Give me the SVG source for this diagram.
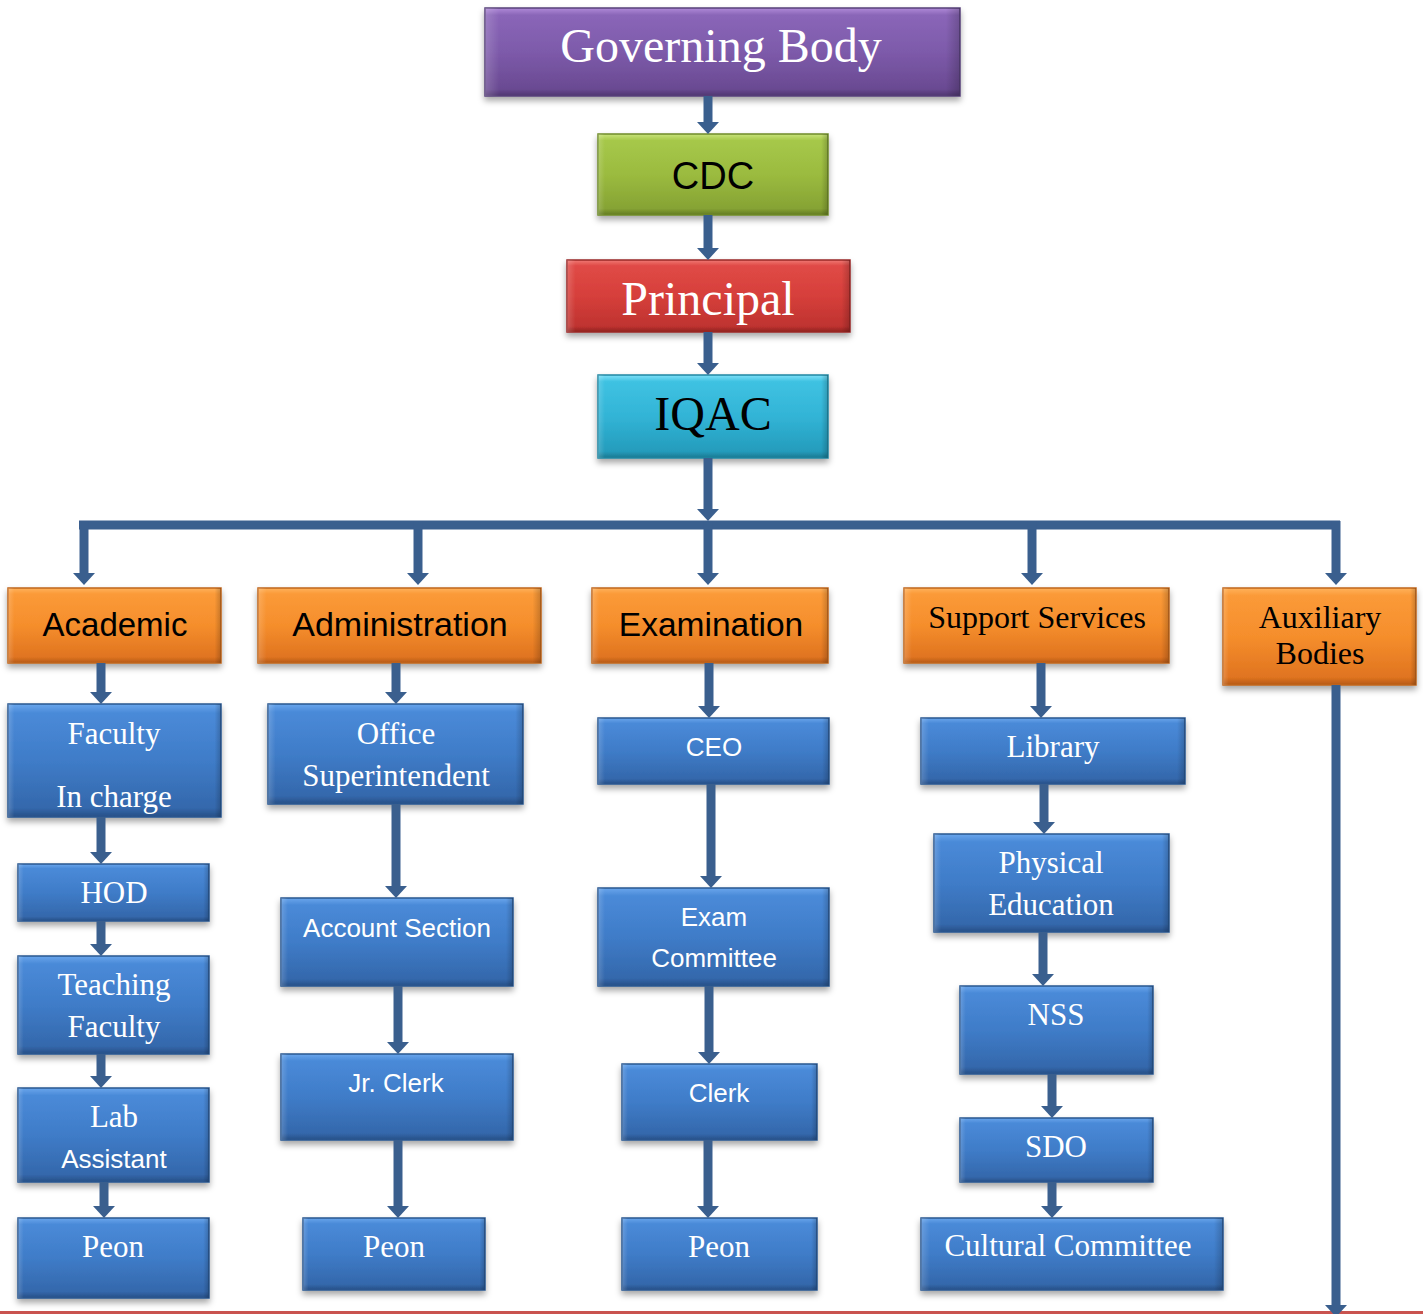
<svg xmlns="http://www.w3.org/2000/svg" width="1423" height="1314" viewBox="0 0 1423 1314">
<defs>
<style>
.serif{font-family:"Liberation Serif","Times New Roman",serif;text-anchor:middle}
.sans{font-family:"Liberation Sans",Arial,sans-serif;text-anchor:middle}
.w{fill:#ffffff}
.k{fill:#000000}
.box{filter:url(#sh)}
.blue{fill:url(#gBlue);stroke:#2a5790;stroke-width:1.5}
.orange{fill:url(#gOrange);stroke:#c0661c;stroke-width:1.5}
.purple{fill:url(#gPurple);stroke:#57407a;stroke-width:1.5}
.green{fill:url(#gGreen);stroke:#6f8a2a;stroke-width:1.5}
.red{fill:url(#gRed);stroke:#992826;stroke-width:1.5}
.cyan{fill:url(#gCyan);stroke:#1f86a2;stroke-width:1.5}
.ov{fill:url(#gSide);stroke:none}
.con{stroke:#3a5f8e;stroke-width:9;fill:none}
.arr{marker-end:url(#ah)}
</style>
<filter id="sh" x="-10%" y="-10%" width="120%" height="140%">
<feDropShadow dx="0" dy="4" stdDeviation="3" flood-color="#000" flood-opacity="0.35"/>
</filter>
<linearGradient id="gBlue" x1="0" y1="0" x2="0" y2="1">
<stop offset="0" stop-color="#6aa6ec"/><stop offset="0.08" stop-color="#4a8ad8"/><stop offset="0.5" stop-color="#3f7cc8"/><stop offset="0.92" stop-color="#3468ac"/><stop offset="1" stop-color="#274f86"/>
</linearGradient>
<linearGradient id="gOrange" x1="0" y1="0" x2="0" y2="1">
<stop offset="0" stop-color="#ffb25c"/><stop offset="0.08" stop-color="#fb9a38"/><stop offset="0.5" stop-color="#f58e2c"/><stop offset="0.92" stop-color="#e07420"/><stop offset="1" stop-color="#b55a17"/>
</linearGradient>
<linearGradient id="gPurple" x1="0" y1="0" x2="0" y2="1">
<stop offset="0" stop-color="#b08ad8"/><stop offset="0.08" stop-color="#8a66b8"/><stop offset="0.5" stop-color="#7d5aaa"/><stop offset="0.92" stop-color="#6a4a92"/><stop offset="1" stop-color="#4f3670"/>
</linearGradient>
<linearGradient id="gGreen" x1="0" y1="0" x2="0" y2="1">
<stop offset="0" stop-color="#c8e37a"/><stop offset="0.08" stop-color="#a6c84a"/><stop offset="0.5" stop-color="#9bbb3f"/><stop offset="0.92" stop-color="#86a334"/><stop offset="1" stop-color="#637a24"/>
</linearGradient>
<linearGradient id="gRed" x1="0" y1="0" x2="0" y2="1">
<stop offset="0" stop-color="#f07a76"/><stop offset="0.08" stop-color="#e04a46"/><stop offset="0.5" stop-color="#d63f3b"/><stop offset="0.92" stop-color="#bf3330"/><stop offset="1" stop-color="#8f2220"/>
</linearGradient>
<linearGradient id="gCyan" x1="0" y1="0" x2="0" y2="1">
<stop offset="0" stop-color="#7fe0f8"/><stop offset="0.08" stop-color="#3fc2e2"/><stop offset="0.5" stop-color="#32b4d6"/><stop offset="0.92" stop-color="#249cbc"/><stop offset="1" stop-color="#1a7890"/>
</linearGradient>
<linearGradient id="gSide" x1="0" y1="0" x2="1" y2="0">
<stop offset="0" stop-color="#fff" stop-opacity="0.18"/><stop offset="0.03" stop-color="#fff" stop-opacity="0"/><stop offset="0.97" stop-color="#000" stop-opacity="0"/><stop offset="1" stop-color="#000" stop-opacity="0.2"/>
</linearGradient>
<marker id="ah" viewBox="0 0 12 22" refX="1" refY="11" markerWidth="12" markerHeight="22" markerUnits="userSpaceOnUse" orient="auto">
<path d="M0,0 L12,11 L0,22 z" fill="#3a5f8e"/>
</marker>
</defs>
<rect x="0" y="0" width="1423" height="1314" fill="#ffffff"/>
<rect x="0" y="1311" width="1423" height="3" fill="#c9534f"/>

<g id="governing-body"><rect class="box purple" x="485" y="8" width="475" height="88"/><rect class="ov" x="485" y="8" width="475" height="88"/><text class="serif w" x="721" y="62" font-size="48">Governing Body</text></g>
<g id="cdc"><rect class="box green" x="598" y="134" width="230" height="81"/><rect class="ov" x="598" y="134" width="230" height="81"/><text class="sans k" x="713" y="189" font-size="38">CDC</text></g>
<g id="principal"><rect class="box red" x="567" y="260" width="283" height="72"/><rect class="ov" x="567" y="260" width="283" height="72"/><text class="serif w" x="708" y="315" font-size="48">Principal</text></g>
<g id="iqac"><rect class="box cyan" x="598" y="375" width="230" height="83"/><rect class="ov" x="598" y="375" width="230" height="83"/><text class="serif k" x="713" y="430" font-size="48">IQAC</text></g>

<g id="academic"><rect class="box orange" x="8" y="588" width="213" height="75"/><rect class="ov" x="8" y="588" width="213" height="75"/><text class="sans k" x="115" y="636" font-size="33">Academic</text></g>
<g id="administration"><rect class="box orange" x="258" y="588" width="283" height="75"/><rect class="ov" x="258" y="588" width="283" height="75"/><text class="sans k" x="400" y="636" font-size="34">Administration</text></g>
<g id="examination"><rect class="box orange" x="592" y="588" width="236" height="75"/><rect class="ov" x="592" y="588" width="236" height="75"/><text class="sans k" x="711" y="636" font-size="33.5">Examination</text></g>
<g id="support-services"><rect class="box orange" x="904" y="588" width="265" height="75"/><rect class="ov" x="904" y="588" width="265" height="75"/><text class="serif k" x="1037" y="628" font-size="32">Support Services</text></g>
<g id="auxiliary-bodies"><rect class="box orange" x="1223" y="588" width="193" height="97"/><rect class="ov" x="1223" y="588" width="193" height="97"/><text class="serif k" x="1320" y="628" font-size="32">Auxiliary</text><text class="serif k" x="1320" y="664" font-size="32">Bodies</text></g>

<g id="faculty-in-charge"><rect class="box blue" x="8" y="704" width="213" height="113"/><rect class="ov" x="8" y="704" width="213" height="113"/><text class="serif w" x="114" y="744" font-size="31">Faculty</text><text class="serif w" x="114" y="807" font-size="31">In charge</text></g>
<g id="hod"><rect class="box blue" x="18" y="864" width="191" height="57"/><rect class="ov" x="18" y="864" width="191" height="57"/><text class="serif w" x="114" y="903" font-size="31">HOD</text></g>
<g id="teaching-faculty"><rect class="box blue" x="18" y="956" width="191" height="98"/><rect class="ov" x="18" y="956" width="191" height="98"/><text class="serif w" x="114" y="995" font-size="31">Teaching</text><text class="serif w" x="114" y="1037" font-size="31">Faculty</text></g>
<g id="lab-assistant"><rect class="box blue" x="18" y="1088" width="191" height="94"/><rect class="ov" x="18" y="1088" width="191" height="94"/><text class="serif w" x="114" y="1127" font-size="31">Lab</text><text class="sans w" x="114" y="1168" font-size="26">Assistant</text></g>
<g id="peon-academic"><rect class="box blue" x="18" y="1218" width="191" height="80"/><rect class="ov" x="18" y="1218" width="191" height="80"/><text class="serif w" x="113" y="1257" font-size="31">Peon</text></g>

<g id="office-superintendent"><rect class="box blue" x="268" y="704" width="255" height="100"/><rect class="ov" x="268" y="704" width="255" height="100"/><text class="serif w" x="396" y="744" font-size="31">Office</text><text class="serif w" x="396" y="786" font-size="31">Superintendent</text></g>
<g id="account-section"><rect class="box blue" x="281" y="898" width="232" height="88"/><rect class="ov" x="281" y="898" width="232" height="88"/><text class="sans w" x="397" y="937" font-size="26">Account Section</text></g>
<g id="jr-clerk"><rect class="box blue" x="281" y="1054" width="232" height="86"/><rect class="ov" x="281" y="1054" width="232" height="86"/><text class="sans w" x="396" y="1092" font-size="26">Jr. Clerk</text></g>
<g id="peon-administration"><rect class="box blue" x="303" y="1218" width="182" height="72"/><rect class="ov" x="303" y="1218" width="182" height="72"/><text class="serif w" x="394" y="1257" font-size="31">Peon</text></g>

<g id="ceo"><rect class="box blue" x="598" y="718" width="231" height="66"/><rect class="ov" x="598" y="718" width="231" height="66"/><text class="sans w" x="714" y="756" font-size="26">CEO</text></g>
<g id="exam-committee"><rect class="box blue" x="598" y="888" width="231" height="98"/><rect class="ov" x="598" y="888" width="231" height="98"/><text class="sans w" x="714" y="926" font-size="26">Exam</text><text class="sans w" x="714" y="967" font-size="26">Committee</text></g>
<g id="clerk"><rect class="box blue" x="622" y="1064" width="195" height="76"/><rect class="ov" x="622" y="1064" width="195" height="76"/><text class="sans w" x="719" y="1102" font-size="26">Clerk</text></g>
<g id="peon-examination"><rect class="box blue" x="622" y="1218" width="195" height="72"/><rect class="ov" x="622" y="1218" width="195" height="72"/><text class="serif w" x="719" y="1257" font-size="31">Peon</text></g>

<g id="library"><rect class="box blue" x="921" y="718" width="264" height="66"/><rect class="ov" x="921" y="718" width="264" height="66"/><text class="serif w" x="1053" y="757" font-size="31">Library</text></g>
<g id="physical-education"><rect class="box blue" x="934" y="834" width="235" height="98"/><rect class="ov" x="934" y="834" width="235" height="98"/><text class="serif w" x="1051" y="873" font-size="31">Physical</text><text class="serif w" x="1051" y="915" font-size="31">Education</text></g>
<g id="nss"><rect class="box blue" x="960" y="986" width="193" height="88"/><rect class="ov" x="960" y="986" width="193" height="88"/><text class="serif w" x="1056" y="1025" font-size="31">NSS</text></g>
<g id="sdo"><rect class="box blue" x="960" y="1118" width="193" height="64"/><rect class="ov" x="960" y="1118" width="193" height="64"/><text class="serif w" x="1056" y="1157" font-size="31">SDO</text></g>
<g id="cultural-committee"><rect class="box blue" x="921" y="1218" width="302" height="72"/><rect class="ov" x="921" y="1218" width="302" height="72"/><text class="serif w" x="1068" y="1256" font-size="31">Cultural Committee</text></g>

<g id="connectors">
<line class="con arr" x1="708" y1="96" x2="708" y2="123"/>
<line class="con arr" x1="708" y1="215" x2="708" y2="249"/>
<line class="con arr" x1="708" y1="332" x2="708" y2="364"/>
<line class="con arr" x1="708" y1="458" x2="708" y2="510"/>
<line class="con" x1="79" y1="525" x2="1340" y2="525"/>
<line class="con arr" x1="84" y1="521" x2="84" y2="574"/>
<line class="con arr" x1="418" y1="521" x2="418" y2="574"/>
<line class="con arr" x1="708" y1="521" x2="708" y2="574"/>
<line class="con arr" x1="1032" y1="521" x2="1032" y2="574"/>
<line class="con arr" x1="1336" y1="521" x2="1336" y2="574"/>
<line class="con arr" x1="101" y1="663" x2="101" y2="693"/>
<line class="con arr" x1="101" y1="817" x2="101" y2="853"/>
<line class="con arr" x1="101" y1="921" x2="101" y2="945"/>
<line class="con arr" x1="101" y1="1054" x2="101" y2="1077"/>
<line class="con arr" x1="104" y1="1182" x2="104" y2="1207"/>
<line class="con arr" x1="396" y1="663" x2="396" y2="693"/>
<line class="con arr" x1="396" y1="804" x2="396" y2="887"/>
<line class="con arr" x1="398" y1="986" x2="398" y2="1043"/>
<line class="con arr" x1="398" y1="1140" x2="398" y2="1207"/>
<line class="con arr" x1="709" y1="663" x2="709" y2="707"/>
<line class="con arr" x1="711" y1="784" x2="711" y2="877"/>
<line class="con arr" x1="709" y1="986" x2="709" y2="1053"/>
<line class="con arr" x1="708" y1="1140" x2="708" y2="1207"/>
<line class="con arr" x1="1041" y1="663" x2="1041" y2="707"/>
<line class="con arr" x1="1044" y1="784" x2="1044" y2="823"/>
<line class="con arr" x1="1043" y1="932" x2="1043" y2="975"/>
<line class="con arr" x1="1052" y1="1074" x2="1052" y2="1107"/>
<line class="con arr" x1="1052" y1="1182" x2="1052" y2="1207"/>
<line class="con arr" x1="1336" y1="685" x2="1336" y2="1306"/>
</g>
</svg>
